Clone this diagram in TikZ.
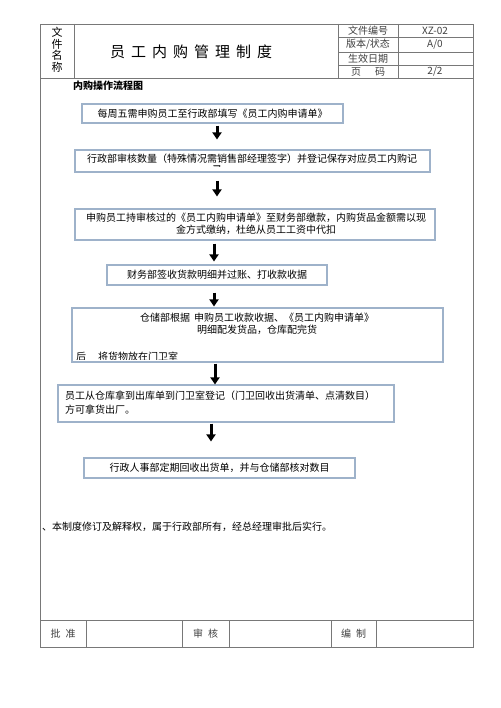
\documentclass[tikz,border=0pt]{standalone}
\usepackage{fontspec}
\setmainfont{Noto Sans CJK SC}
\usetikzlibrary{arrows.meta}
\definecolor{boxblue}{RGB}{158,178,202}
\definecolor{rulegray}{RGB}{120,120,120}
\begin{document}
\begin{tikzpicture}[x=1pt,y=-1pt,
  fbox/.style={draw=boxblue,line width=1.1pt,inner sep=0pt,rectangle},
  txt/.style={font=\fontsize{10}{12}\selectfont,inner sep=0pt,align=center},
  hd/.style={font=\fontsize{10}{12}\selectfont,inner sep=0pt,text=black!75},
  arr/.style={line width=3pt,-{Triangle[width=9pt,length=7pt]}},
  grid/.style={draw=rulegray,line width=0.9pt}]
\useasboundingbox[fill=white] (0,0) rectangle (500,708);

% header table
\draw[grid] (40,24) rectangle (473,78);
\draw[grid] (74,24) -- (74,78) (338,24) -- (338,78) (398,24) -- (398,78);
\draw[grid] (338,37) -- (473,37) (338,52) -- (473,52) (338,65) -- (473,65);
\node[inner sep=0pt,align=center,font=\fontsize{11}{11.5}\selectfont] (fname) at (57,50) {文\\件\\名\\称};
\node[inner sep=0pt,font=\fontsize{15}{18}\selectfont] (title) at (191,52) {员\kern6pt 工\kern6pt 内\kern6pt 购\kern6pt 管\kern6pt 理\kern6pt 制\kern6pt 度};
\node[hd] (l1) at (368,30.5) {文件编号};
\node[hd] (l2) at (368,44.5) {版本/状态};
\node[hd] (l3) at (368,58.5) {生效日期};
\node[hd] (l4) at (368,71.5) {页\hspace{14pt}码};
\node[hd] (v1) at (435,30.5) {XZ-02};
\node[hd] (v2) at (435,44.5) {A/0};
\node[hd] (v4) at (435,71.5) {2/2};

% body frame and footer
\draw[grid] (40,78) -- (40,647) -- (473,647) -- (473,78);
\draw[grid] (40,620) -- (473,620);
\draw[grid] (86,620) -- (86,647) (182,620) -- (182,647) (229,620) -- (229,647) (331,620) -- (331,647) (376,620) -- (376,647);
\node[hd] (f1) at (63,633.5) {批\hspace{5pt}准};
\node[hd] (f2) at (205.5,633.5) {审\hspace{5pt}核};
\node[hd] (f3) at (353.5,633.5) {编\hspace{5pt}制};

\node[inner sep=0pt,anchor=west,font=\fontsize{10}{12}\selectfont\bfseries] (sec) at (73,85.5) {内购操作流程图};

% boxes
\node[fbox,minimum width=261pt,minimum height=19pt] (b1) at (212.5,113.5) {};
\node[fbox,minimum width=355pt,minimum height=22pt] (b2) at (252.5,161) {};
\node[fbox,minimum width=360pt,minimum height=31pt] (b3) at (255,224.5) {};
\node[fbox,minimum width=220pt,minimum height=20pt] (b4) at (217,275) {};
\node[fbox,minimum width=371pt,minimum height=54pt] (b5) at (257.5,335) {};
\node[fbox,minimum width=336pt,minimum height=37pt] (b6) at (226,403.5) {};
\node[fbox,minimum width=271pt,minimum height=20pt] (b7) at (219.5,468) {};

% texts
\node[txt] (t1) at (212.5,113.5) {每周五需申购员工至行政部填写《员工内购申请单》};
\node[txt] (t2) at (252,158.5) {行政部审核数量（特殊情况需销售部经理签字）并登记保存对应员工内购记};
\begin{scope}
  \clip (150,150) rectangle (300,167);
  \node[txt] (t2b) at (217,169.5) {录};
\end{scope}
\node[txt] (t3) at (256,223.5) {申购员工持审核过的《员工内购申请单》至财务部缴款，内购货品金额需以现\\金方式缴纳，杜绝从员工工资中代扣};
\node[txt] (t4) at (217,275) {财务部签收货款明细并过账、打收款收据};
\node[txt] (t5) at (257,323.5) {仓储部根据\hspace{4pt}申购员工收款收据、《员工内购申请单》\\明细配发货品，仓库配完货};
\begin{scope}
  \clip (73,340) rectangle (442,359.5);
  \node[txt,anchor=west] (t5b) at (76,357) {后\hspace{12pt}将货物放在门卫室};
\end{scope}
\node[txt,align=left,anchor=west,font=\fontsize{10}{14}\selectfont] (t6) at (65,402.5) {员工从仓库拿到出库单到门卫室登记（门卫回收出货清单、点清数目）\\方可拿货出厂。};
\node[txt] (t7) at (219.5,468) {行政人事部定期回收出货单，并与仓储部核对数目};
\node[txt,anchor=west] (note) at (42,527) {、本制度修订及解释权，属于行政部所有，经总经理审批后实行。};

% arrows
\coordinate (ax1) at (217,0);
\coordinate (ax3) at (214,0);
\coordinate (ax5) at (215,0);
\coordinate (ax6) at (211,0);
\draw[arr,shorten <=2pt,shorten >=10pt] (b1.south -| ax1) -- (b2.north -| ax1);
\draw[arr,shorten <=8pt,shorten >=12pt] (b2.south -| ax1) -- (b3.north -| ax1);
\draw[arr,shorten <=3pt,shorten >=3pt] (b3.south -| ax3) -- (b4.north -| ax3);
\draw[arr,shorten <=7pt,shorten >=1pt] (b4.south -| ax3) -- (b5.north -| ax3);
\draw[arr,shorten <=1pt,shorten >=0pt] (b5.south -| ax5) -- (b6.north -| ax5);
\draw[arr,shorten <=1pt,shorten >=16pt] (b6.south -| ax6) -- (b7.north -| ax6);
\end{tikzpicture}
\end{document}
